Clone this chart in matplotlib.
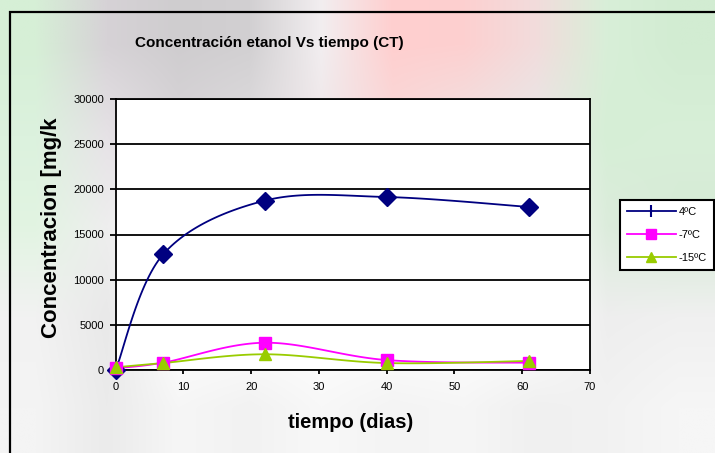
import numpy as np
import matplotlib.pyplot as plt
from matplotlib.lines import Line2D
from matplotlib.patches import Rectangle
from matplotlib.transforms import Bbox

# datos
dias = [0, 7, 22, 40, 61]
conc_4 = [0, 12800, 18750, 19150, 18050]
conc_m7 = [200, 810, 3020, 1100, 800]
conc_m15 = [300, 770, 1740, 770, 1000]
series_names = ['4ºC', '-7ºC', '-15ºC']
series_colors = ['#000080', '#FF00FF', '#99CC00']
series_markers = ['D', 's', '^']

W, H = 715, 453
plt.rcParams['font.family'] = ['Liberation Sans', 'DejaVu Sans']


# curva suavizada tipo Excel (Catmull-Rom -> Bezier)
def smooth(x, y, n=30):
    p = np.column_stack([x, y]).astype(float)
    p = np.vstack([p[0], p, p[-1]])
    out = []
    for i in range(1, len(p) - 2):
        p0, p1, p2, p3 = p[i - 1], p[i], p[i + 1], p[i + 2]
        c1 = p1 + (p2 - p0) / 6.0
        c2 = p2 - (p3 - p1) / 6.0
        t = np.linspace(0, 1, n)[:, None]
        seg = ((1 - t) ** 3) * p1 + 3 * ((1 - t) ** 2) * t * c1 + 3 * (1 - t) * t ** 2 * c2 + t ** 3 * p2
        out.append(seg if i == 1 else seg[1:])
    out = np.vstack(out)
    return out[:, 0], out[:, 1]


fig = plt.figure(figsize=(W / 100, H / 100), dpi=100)

# fondo (foto difuminada)
bg = fig.add_axes([0, 0, 1, 1], zorder=-10)
bg_colors = [
    ['#d6efd6', '#d6d2d6', '#cfcdcf', '#d2d0d2', '#f2eef0', '#ffcfcf', '#fdd0d0', '#f2dcdc', '#d8efd8', '#d2ecd2'],
    ['#dcf2de', '#e6e2e6', '#d8d4d8', '#dedcde', '#efe6e8', '#f8dada', '#f0e2e2', '#e8e8e8', '#d6efd6', '#d8efd8'],
    ['#e2f4e2', '#eeeeee', '#ffffff', '#ffffff', '#ffffff', '#ffffff', '#ffffff', '#ffffff', '#dcecdc', '#d6ead6'],
    ['#f2f2f2', '#e9e9e9', '#ffffff', '#ffffff', '#ffffff', '#ffffff', '#ffffff', '#ffffff', '#eeeeee', '#f0f0f0'],
    ['#f4f4f4', '#ebebeb', '#f6f6f6', '#f2f2f2', '#f8f8f8', '#f4f4f4', '#f6f6f6', '#f0f0f0', '#f2f2f2', '#f6f6f6'],
]
img = np.array([[[int(c[k:k + 2], 16) / 255 for k in (1, 3, 5)] for c in row] for row in bg_colors])
bg.imshow(img, aspect='auto', interpolation='bilinear', extent=[0, 1, 0, 1])
bg.axis('off')

# marco del area del grafico
fig.patches.append(Rectangle((10 / W, -0.1), 1.2, 1 - 12 / H + 0.1, transform=fig.transFigure,
                             fill=False, edgecolor='black', linewidth=1.6))

ax = fig.add_axes([115.7 / W, 1 - 370 / H, (590 - 115.7) / W, (370 - 99) / H])
ax.set_facecolor('white')

data = [conc_4, conc_m7, conc_m15]
for vals, c, m in zip(data, series_colors, series_markers):
    sx, sy = smooth(dias, vals)
    ax.plot(sx, sy, color=c, linewidth=1.3, clip_on=False, zorder=3)
    ax.plot(dias, vals, linestyle='none', marker=m, color=c, markersize=9, clip_on=False, zorder=4)

ax.set_xlim(0, 70)
ax.set_ylim(0, 30000)
ax.set_xticks(np.arange(0, 71, 10))
ax.set_yticks(np.arange(0, 30001, 5000))
ax.grid(axis='y', color='black', linewidth=1.3)
ax.set_axisbelow(True)
for s in ax.spines.values():
    s.set_color('black')
    s.set_linewidth(1.3)
ax.tick_params(axis='y', direction='out', length=4.5, width=1.3, pad=4, labelsize=8)
ax.tick_params(axis='x', direction='out', length=3, width=1.3, pad=6, labelsize=8)

fig.text(269 / W, 1 - 43 / H, 'Concentración etanol Vs tiempo (CT)', ha='center', va='center',
         fontsize=11, fontweight='bold')
fig.text(351 / W, 1 - 423 / H, 'tiempo (dias)', ha='center', va='center',
         fontsize=14.5, fontweight='bold')
yl = fig.text(52 / W, 1 - 338 / H, 'Concentracion [mg/kg]', ha='center', va='bottom',
              rotation=90, fontsize=16, fontweight='bold')
yl.set_clip_box(Bbox([[0, 0], [W, H - 118]]))
yl.set_clip_on(True)

handles = [Line2D([], [], color=series_colors[0], marker='|', markersize=9, markeredgewidth=1.5, linewidth=1.3),
           Line2D([], [], color=series_colors[1], marker='s', markersize=7, linewidth=1.3),
           Line2D([], [], color=series_colors[2], marker='^', markersize=7, linewidth=1.3)]
leg = fig.legend(handles, series_names, loc='upper left', bbox_to_anchor=(620 / W, 1 - 200 / H),
                 fontsize=8, frameon=True, fancybox=False, edgecolor='black', framealpha=1,
                 handlelength=4.4, handletextpad=0.3, labelspacing=1.2, borderpad=0.6, borderaxespad=0)
leg.get_frame().set_linewidth(1.5)

fig.savefig('out.png', dpi=100)
